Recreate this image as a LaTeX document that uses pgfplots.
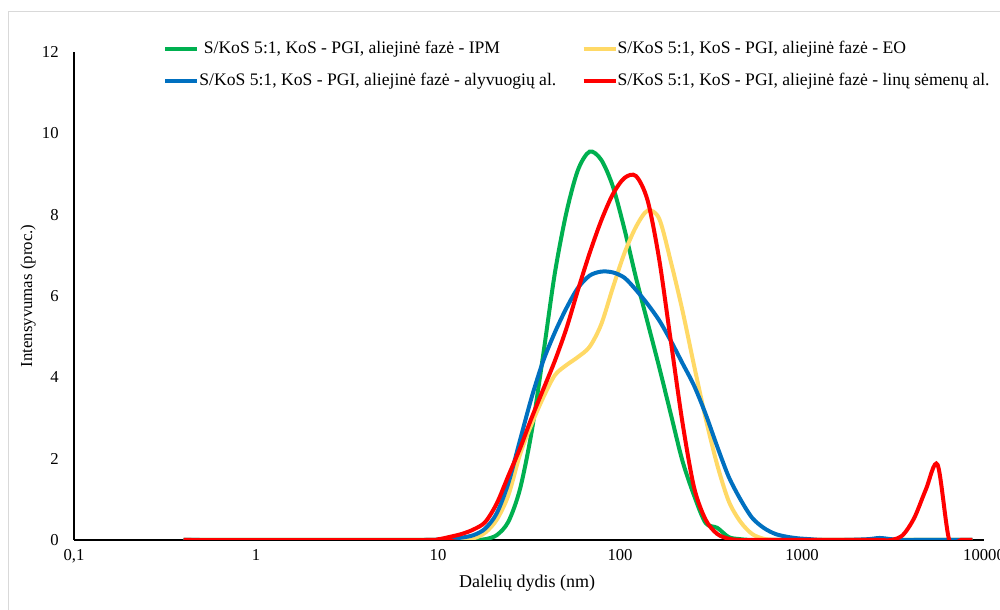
\documentclass[border=0pt]{standalone}
\usepackage{fontspec}
\setmainfont{Liberation Serif}
\usepackage{pgfplots}
\usepackage{pgfplotstable}
\pgfplotsset{compat=1.18}
\definecolor{ipmGreen}{HTML}{00B050}
\definecolor{eoYellow}{HTML}{FFD966}
\definecolor{olivBlue}{HTML}{0070C0}
\definecolor{linuRed}{HTML}{FF0000}
\definecolor{frameGray}{HTML}{D9D9D9}

% dydis (nm) vs intensyvumas (proc.)
\pgfplotstableread{
d      ipm   eo    oliv  linu
0.4    0     0     0     0
8.721  0     0     0     0
10.10  0     0     0.01  0.02
11.70  0     0     0.03  0.08
13.54  0     0.01  0.06  0.15
15.69  0     0.04  0.12  0.26
18.17  0.02  0.18  0.28  0.44
21.04  0.12  0.50  0.66  0.90
24.36  0.45  1.10  1.40  1.58
28.21  1.25  2.10  2.45  2.25
32.67  2.65  2.85  3.50  3.00
37.84  4.55  3.50  4.40  3.70
43.82  6.55  4.05  5.10  4.40
50.75  8.05  4.30  5.70  5.20
58.77  9.10  4.50  6.20  6.15
68.06  9.55  4.75  6.50  7.05
78.82  9.35  5.30  6.60  7.85
91.28  8.70  6.20  6.58  8.50
105.7  7.65  7.05  6.45  8.90
122.4  6.45  7.70  6.15  8.95
141.8  5.35  8.10  5.80  8.35
164.2  4.25  7.90  5.40  6.90
190.1  3.10  6.85  4.90  4.90
220.2  1.95  5.65  4.35  2.90
255.0  1.10  4.30  3.80  1.30
295.3  0.42  3.00  3.10  0.50
342.0  0.30  1.85  2.30  0.15
396.1  0.07  0.95  1.55  0.03
458.7  0.02  0.45  1.00  0
531.2  0     0.15  0.55  0
615.1  0     0.03  0.30  0
712.4  0     0     0.15  0
825.0  0     0     0.08  0
955.4  0     0     0.04  0
1106   0     0     0.02  0
1281   0     0     0     0
1718   0     0     0     0
2305   0     0     0.02  0
2669   0     0     0.05  0
3091   0     0     0.02  0
3580   0     0     0     0.12
4145   0     0     0     0.55
4801   0     0     0     1.25
5560   0     0     0     1.85
6439   0     0     0     0
7456   0     0     0     0
8635   0     0     0     0
}\dlsdata

\begin{document}
\begin{tikzpicture}[x=0.75pt,y=0.75pt]
\path[use as bounding box] (0,0) rectangle (1000,610);
\draw[frameGray, line width=0.75pt] (8,0) -- (8,598) -- (1000,598);
\begin{axis}[
    at={(55.5pt,52.5pt)}, anchor=south west, scale only axis,
    width=682.5pt, height=366pt,
    xmode=log, xmin=0.1, xmax=10000, ymin=0, ymax=12,
    xtick={0.1,1,10,100,1000,10000},
    xticklabels={{0,1},1,10,100,1000,10000},
    ytick={0,2,...,12},
    axis lines*=left, axis line style={black, line width=1.2pt},
    major tick length=0pt, minor tick length=0pt,
    /pgf/number format/assume math mode=true,
    ticklabel style={font=\fontsize{12.5}{14}\selectfont},
    xticklabel style={yshift=-3.5pt},
    yticklabel style={xshift=-8pt},
    xlabel={Dalelių dydis (nm)},
    ylabel={Intensyvumas (proc.)},
    xlabel style={font=\fontsize{13.5}{15}\selectfont, at={(axis description cs:0.498,-0.088)}, anchor=center},
    ylabel style={font=\fontsize{12.6}{14}\selectfont, at={(axis description cs:-0.0505,0.5)}, anchor=center},
    legend columns=2,
    legend cell align=left,
    legend style={at={(axis description cs:0.098,1.024)}, anchor=north west,
                  draw=none, fill=none, inner sep=0pt, font=\fontsize{13.2}{15}\selectfont,
                  row sep=11.5pt,
                  nodes={inner xsep=0pt, inner ysep=0pt, text height=9.5pt, text depth=3pt},
                  /tikz/every even column/.append style={column sep=19pt}},
    legend image code/.code={\draw[#1, line width=3pt] (0pt,0pt) -- (24pt,0pt);},
  ]
  \addplot[ipmGreen, line width=3pt, smooth] table[x=d, y=ipm] {\dlsdata};
  \addplot[eoYellow, line width=3pt, smooth] table[x=d, y=eo] {\dlsdata};
  \addplot[olivBlue, line width=3pt, smooth] table[x=d, y=oliv] {\dlsdata};
  \addplot[linuRed, line width=3pt, smooth] table[x=d, y=linu] {\dlsdata};
  \legend{{\ S/KoS 5:1, KoS - PGI, aliejinė fazė - IPM},
          {S/KoS 5:1, KoS - PGI, aliejinė fazė - EO},
          {S/KoS 5:1, KoS - PGI, aliejinė fazė - alyvuogių al.},
          {S/KoS 5:1, KoS - PGI, aliejinė fazė - linų sėmenų al.}}
\end{axis}
\end{tikzpicture}
\end{document}
